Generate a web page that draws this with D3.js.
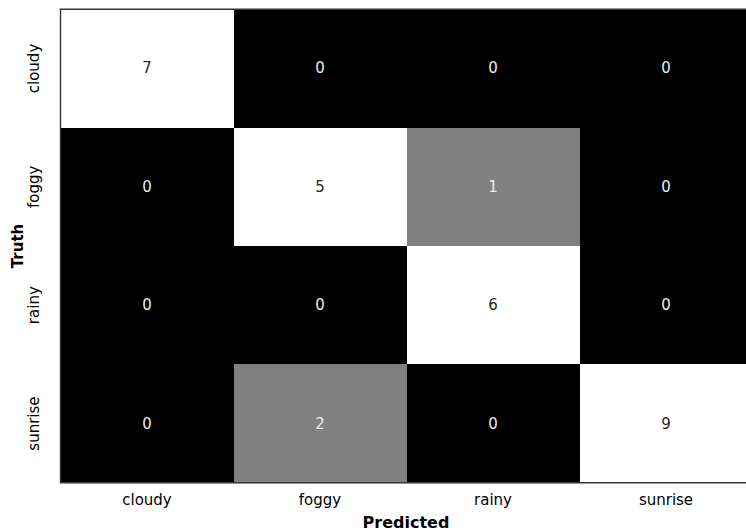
<!DOCTYPE html>
<html>
<head>
<meta charset="utf-8">
<script src="https://cdn.jsdelivr.net/npm/d3@7"></script>
<style>
  html, body { margin: 0; padding: 0; background: #fff; overflow: hidden; }
  svg { display: block; }
  text { font-family: "DejaVu Sans", sans-serif; }
</style>
</head>
<body>
<div id="chart"></div>
<script>
// Confusion matrix: rows = true class, columns = predicted class
const classes = ["cloudy", "foggy", "rainy", "sunrise"];
const counts = [
  [7, 0, 0, 0],
  [0, 5, 1, 0],
  [0, 0, 6, 0],
  [0, 2, 0, 9]
];
const xLabel = "Predicted";
const yLabel = "Truth";

const width = 746, height = 532;
const margin = { left: 60.5, top: 9.3, bottom: 49.3 };
const cellW = 173;
const plotW = cellW * classes.length;
const plotH = height - margin.top - margin.bottom;

const svg = d3.select("#chart").append("svg")
  .attr("width", width).attr("height", height);

const x = d3.scaleBand().domain(classes).range([margin.left, margin.left + plotW]);
const y = d3.scaleBand().domain(classes).range([margin.top, margin.top + plotH]);

// discrete grey levels for the cell fills
const fill = d3.scaleThreshold().domain([1, 3]).range(["#000000", "#808080", "#ffffff"]);
const ink = d3.scaleThreshold().domain([3]).range(["#ececec", "#262626"]);

const cells = [];
counts.forEach((row, i) => row.forEach((v, j) => cells.push({ t: classes[i], p: classes[j], v })));

const g = svg.append("g");
g.selectAll("rect").data(cells).join("rect")
  .attr("x", d => x(d.p))
  .attr("y", d => y(d.t))
  .attr("width", x.bandwidth())
  .attr("height", y.bandwidth())
  .attr("shape-rendering", "crispEdges")
  .attr("fill", d => fill(d.v));

g.selectAll("text").data(cells).join("text")
  .attr("x", d => x(d.p) + x.bandwidth() / 2)
  .attr("y", d => y(d.t) + y.bandwidth() / 2)
  .attr("text-anchor", "middle")
  .attr("dominant-baseline", "central")
  .attr("font-size", 15)
  .attr("fill", d => ink(d.v))
  .text(d => d.v);

// frame
const x0 = margin.left, y0 = margin.top, y1 = margin.top + plotH, x1 = margin.left + plotW;
svg.append("path")
  .attr("d", `M${x1},${y0}H${x0}V${y1}H${x1}`)
  .attr("fill", "none").attr("stroke", "#333").attr("stroke-width", 1.4);

// axes
const xAxis = svg.append("g").attr("transform", `translate(0,${y1})`)
  .call(d3.axisBottom(x).tickSize(0).tickPadding(12));
xAxis.select(".domain").remove();
xAxis.selectAll("text").attr("font-size", 15).attr("fill", "#000")
  .attr("font-family", "DejaVu Sans, sans-serif");

const yAxis = svg.append("g").attr("transform", `translate(${x0},0)`)
  .call(d3.axisLeft(y).tickSize(0).tickPadding(0));
yAxis.select(".domain").remove();
yAxis.selectAll("text")
  .attr("font-size", 15).attr("fill", "#000")
  .attr("font-family", "DejaVu Sans, sans-serif")
  .attr("text-anchor", "middle")
  .attr("x", null).attr("dy", null)
  .attr("transform", "translate(-22,0) rotate(-90)");

svg.append("text")
  .attr("x", 406)
  .attr("y", 528)
  .attr("text-anchor", "middle")
  .attr("font-size", 16).attr("font-weight", "bold")
  .text(xLabel);

svg.append("text")
  .attr("transform", `translate(23,${margin.top + plotH / 2}) rotate(-90)`)
  .attr("text-anchor", "middle")
  .attr("font-size", 15).attr("font-weight", "bold")
  .text(yLabel);
</script>
</body>
</html>
